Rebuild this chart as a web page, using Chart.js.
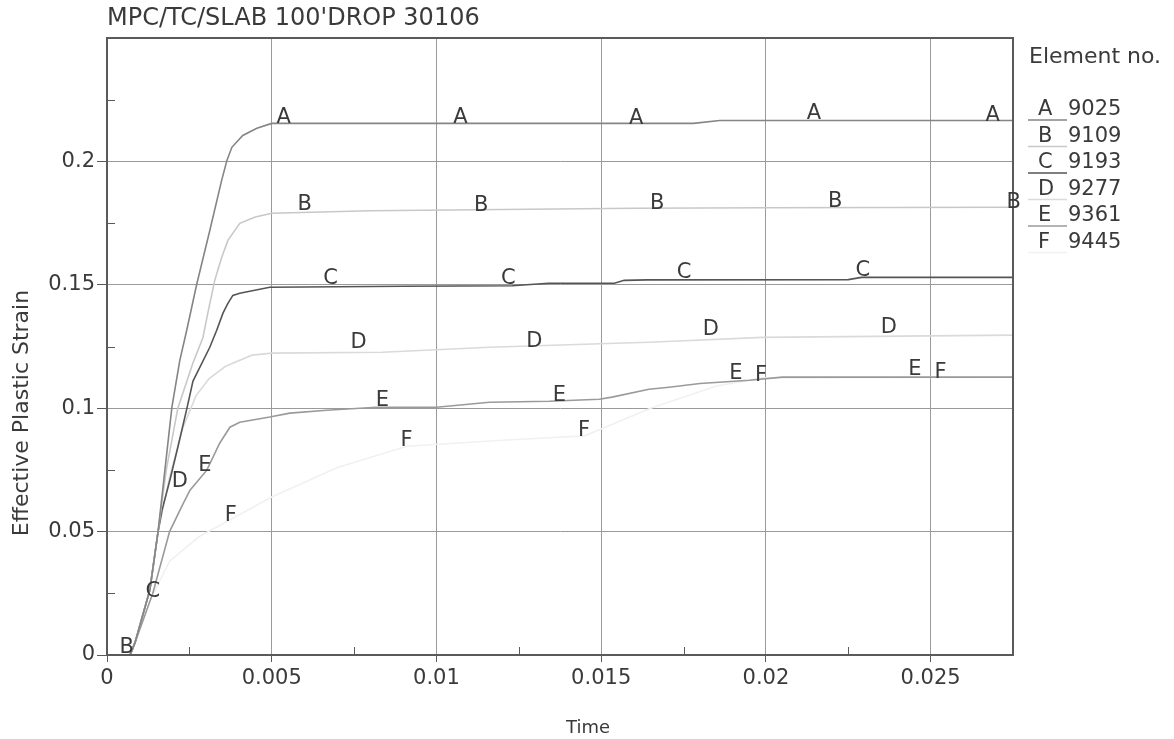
<!DOCTYPE html>
<html>
<head>
<meta charset="utf-8">
<title>MPC/TC/SLAB 100'DROP 30106</title>
<script src="https://cdn.jsdelivr.net/npm/chart.js@4.4.1/dist/chart.umd.min.js"></script>
<style>
  html, body { margin: 0; padding: 0; background: #fff; }
  canvas { display: block; }
</style>
</head>
<body>
<canvas id="plot" width="1174" height="739"></canvas>
<script>
// axis ticks
const xTicks = [0, 0.005, 0.01, 0.015, 0.02, 0.025];
const yTicks = [0, 0.05, 0.1, 0.15, 0.2];
const xMinor = [0.0025, 0.0075, 0.0125, 0.0175, 0.0225];
const yMinor = [0.025, 0.075, 0.125, 0.175, 0.225];

// curves: [time, effective plastic strain]
const curveA = [[0, 0], [0.0007, 0], [0.00085, 0.005], [0.0013, 0.0263], [0.00155, 0.05], [0.00182, 0.0824],
  [0.00197, 0.1004], [0.00221, 0.1194], [0.00242, 0.1316], [0.00272, 0.15], [0.00312, 0.172], [0.00348, 0.1923],
  [0.00364, 0.2004], [0.00379, 0.2057], [0.00412, 0.2105], [0.00455, 0.2134], [0.005, 0.2154], [0.0105, 0.2154],
  [0.0178, 0.2154], [0.0186, 0.2166], [0.0275, 0.2166]];
const curveB = [[0, 0], [0.0007, 0], [0.00085, 0.005], [0.0013, 0.0263], [0.00155, 0.05], [0.0018, 0.075],
  [0.00215, 0.1], [0.0026, 0.118], [0.00291, 0.1285], [0.00306, 0.1385], [0.00327, 0.1518], [0.00348, 0.1611],
  [0.00367, 0.168], [0.00403, 0.1749], [0.0045, 0.1775], [0.005, 0.179], [0.008, 0.18], [0.012, 0.1805],
  [0.016, 0.181], [0.02, 0.1812], [0.0275, 0.1814]];
const curveC = [[0, 0], [0.0007, 0], [0.00085, 0.005], [0.0013, 0.0263], [0.00155, 0.05], [0.00167, 0.0587],
  [0.00191, 0.0709], [0.00215, 0.0842], [0.00242, 0.0996], [0.00261, 0.111], [0.00312, 0.1247], [0.00333, 0.1316],
  [0.00352, 0.1385], [0.00367, 0.1425], [0.00382, 0.1457], [0.00403, 0.1466], [0.00494, 0.149], [0.009, 0.1494],
  [0.0123, 0.1496], [0.0134, 0.1506], [0.0154, 0.1506], [0.0157, 0.1518], [0.0164, 0.152], [0.0225, 0.1521],
  [0.0229, 0.153], [0.0275, 0.153]];
const curveD = [[0, 0], [0.0007, 0], [0.00085, 0.005], [0.0013, 0.0263], [0.00155, 0.05], [0.0019, 0.072],
  [0.0023, 0.092], [0.0027, 0.105], [0.0031, 0.112], [0.0036, 0.117], [0.0044, 0.1215], [0.005, 0.1223],
  [0.00836, 0.1227], [0.01161, 0.1247], [0.01545, 0.1263], [0.01645, 0.1267], [0.0199, 0.1287], [0.0275, 0.1296]];
const curveE = [[0, 0], [0.0007, 0], [0.00085, 0.005], [0.00139, 0.025], [0.0019, 0.05], [0.0023, 0.061],
  [0.00252, 0.0668], [0.00303, 0.0749], [0.00342, 0.0858], [0.00373, 0.0923], [0.00403, 0.0943], [0.00494, 0.0964],
  [0.00555, 0.098], [0.00667, 0.0992], [0.00818, 0.1004], [0.01, 0.1004], [0.01161, 0.1024], [0.01342, 0.1028],
  [0.01494, 0.1036], [0.01533, 0.1045], [0.01645, 0.1077], [0.01706, 0.1085], [0.018, 0.11], [0.0195, 0.1113],
  [0.0205, 0.1126], [0.0275, 0.1126]];
const curveF = [[0, 0], [0.0007, 0], [0.00085, 0.005], [0.0013, 0.022], [0.0019, 0.038], [0.0028, 0.048],
  [0.0037, 0.0545], [0.005, 0.064], [0.007, 0.076], [0.0091, 0.0846], [0.012, 0.087], [0.0145, 0.0888],
  [0.0165, 0.1], [0.0185, 0.109], [0.0199, 0.1123], [0.0275, 0.1126]];

// letter markers along each curve: [time, strain]
const marksA = [[0.00536, 0.2178], [0.01073, 0.2178], [0.01606, 0.2174], [0.02146, 0.2195], [0.02688, 0.2186]];
const marksB = [[0.0006, 0.0032], [0.006, 0.1826], [0.01136, 0.1822], [0.0167, 0.183], [0.0221, 0.1838], [0.02752, 0.1834]];
const marksC = [[0.00139, 0.0259], [0.00679, 0.1526], [0.01218, 0.1526], [0.01752, 0.1551], [0.02294, 0.1559]];
const marksD = [[0.00221, 0.0704], [0.00764, 0.1267], [0.01297, 0.1271], [0.01833, 0.132], [0.02373, 0.1328]];
const marksE = [[0.00297, 0.0769], [0.00836, 0.1032], [0.01373, 0.1053], [0.01909, 0.1142], [0.02452, 0.1158]];
const marksF = [[0.00376, 0.0567], [0.00909, 0.087], [0.01448, 0.0911], [0.01985, 0.1134], [0.0253, 0.1146]];

const letters = ['A', 'B', 'C', 'D', 'E', 'F'];
const elementNos = ['9025', '9109', '9193', '9277', '9361', '9445'];
const lineColors = ['#858585', '#c8c8c8', '#555555', '#dadada', '#9a9a9a', '#f1f1f1'];

const curves = [curveA, curveB, curveC, curveD, curveE, curveF];
const marks = [marksA, marksB, marksC, marksD, marksE, marksF];

const FONT = '"DejaVu Sans", "Liberation Sans", sans-serif';
const TEXT = '#3a3a3a';

const datasets = curves.map((c, i) => ({
    label: letters[i] + ' ' + elementNos[i],
    data: c.map(p => ({ x: p[0], y: p[1] })),
    borderColor: lineColors[i],
    borderWidth: 1.6,
    pointRadius: 0,
    tension: 0,
    fill: false
}));

const decorPlugin = {
    id: 'decor',
    afterDraw(chart) {
        const ctx = chart.ctx;
        const xs = chart.scales.x;
        const ys = chart.scales.y;
        const area = chart.chartArea;
        ctx.save();

        // frame
        ctx.strokeStyle = '#5a5a5a';
        ctx.lineWidth = 2;
        ctx.strokeRect(area.left, area.top, area.right - area.left, area.bottom - area.top);

        // minor ticks inside the frame
        ctx.lineWidth = 1;
        xMinor.forEach(v => {
            const px = Math.round(xs.getPixelForValue(v)) + 0.5;
            ctx.beginPath();
            ctx.moveTo(px, area.bottom);
            ctx.lineTo(px, area.bottom - 8);
            ctx.stroke();
        });
        yMinor.forEach(v => {
            const py = Math.round(ys.getPixelForValue(v)) + 0.5;
            ctx.beginPath();
            ctx.moveTo(area.left, py);
            ctx.lineTo(area.left + 8, py);
            ctx.stroke();
        });

        // letter markers
        ctx.fillStyle = TEXT;
        ctx.font = '21px ' + FONT;
        ctx.textAlign = 'center';
        ctx.textBaseline = 'middle';
        marks.forEach((list, i) => {
            list.forEach(p => {
                ctx.fillText(letters[i], xs.getPixelForValue(p[0]), ys.getPixelForValue(p[1]));
            });
        });

        // title
        ctx.textAlign = 'left';
        ctx.font = '24px ' + FONT;
        ctx.fillText("MPC/TC/SLAB 100'DROP 30106", 107, 19);

        // axis titles
        ctx.textAlign = 'center';
        ctx.font = '18px ' + FONT;
        ctx.fillText('Time', 588, 728);
        ctx.save();
        ctx.translate(22, 413);
        ctx.rotate(-Math.PI / 2);
        ctx.font = '22px ' + FONT;
        ctx.fillText('Effective Plastic Strain', 0, 0);
        ctx.restore();

        // element legend
        ctx.textAlign = 'left';
        ctx.font = '22px ' + FONT;
        ctx.fillText('Element no.', 1029, 57);
        ctx.font = '21px ' + FONT;
        letters.forEach((l, i) => {
            const cy = 110 + i * 26.5;
            ctx.fillStyle = TEXT;
            ctx.fillText(l, 1038, cy);
            ctx.fillText(elementNos[i], 1068, cy);
            ctx.strokeStyle = lineColors[i];
            ctx.lineWidth = 1.5;
            ctx.beginPath();
            ctx.moveTo(1028, cy + 10);
            ctx.lineTo(1067, cy + 10);
            ctx.stroke();
        });
        ctx.restore();
    }
};

new Chart(document.getElementById('plot'), {
    type: 'line',
    data: { datasets: datasets },
    options: {
        responsive: false,
        animation: false,
        devicePixelRatio: 1,
        layout: { padding: { top: 38, right: 161, left: 0, bottom: 0 } },
        plugins: {
            legend: { display: false },
            tooltip: { enabled: false }
        },
        scales: {
            x: {
                type: 'linear',
                min: 0,
                max: 0.0275,
                afterBuildTicks: scale => { scale.ticks = xTicks.map(v => ({ value: v })); },
                afterFit: scale => { scale.height = 84; },
                grid: { color: '#9a9a9a', lineWidth: 1, tickLength: 7, tickColor: '#5a5a5a' },
                border: { color: '#5a5a5a', width: 2 },
                ticks: {
                    color: TEXT,
                    font: { family: FONT, size: 21 },
                    padding: 4,
                    maxRotation: 0,
                    autoSkip: false,
                    callback: v => String(v)
                }
            },
            y: {
                type: 'linear',
                min: 0,
                max: 0.25,
                afterBuildTicks: scale => { scale.ticks = yTicks.map(v => ({ value: v })); },
                afterFit: scale => { scale.width = 107; },
                grid: { color: '#9a9a9a', lineWidth: 1, tickLength: 10, tickColor: '#5a5a5a' },
                border: { color: '#5a5a5a', width: 2 },
                ticks: {
                    color: TEXT,
                    font: { family: FONT, size: 21 },
                    padding: 2,
                    autoSkip: false,
                    callback: v => String(v)
                }
            }
        }
    },
    plugins: [decorPlugin]
});
</script>
</body>
</html>
